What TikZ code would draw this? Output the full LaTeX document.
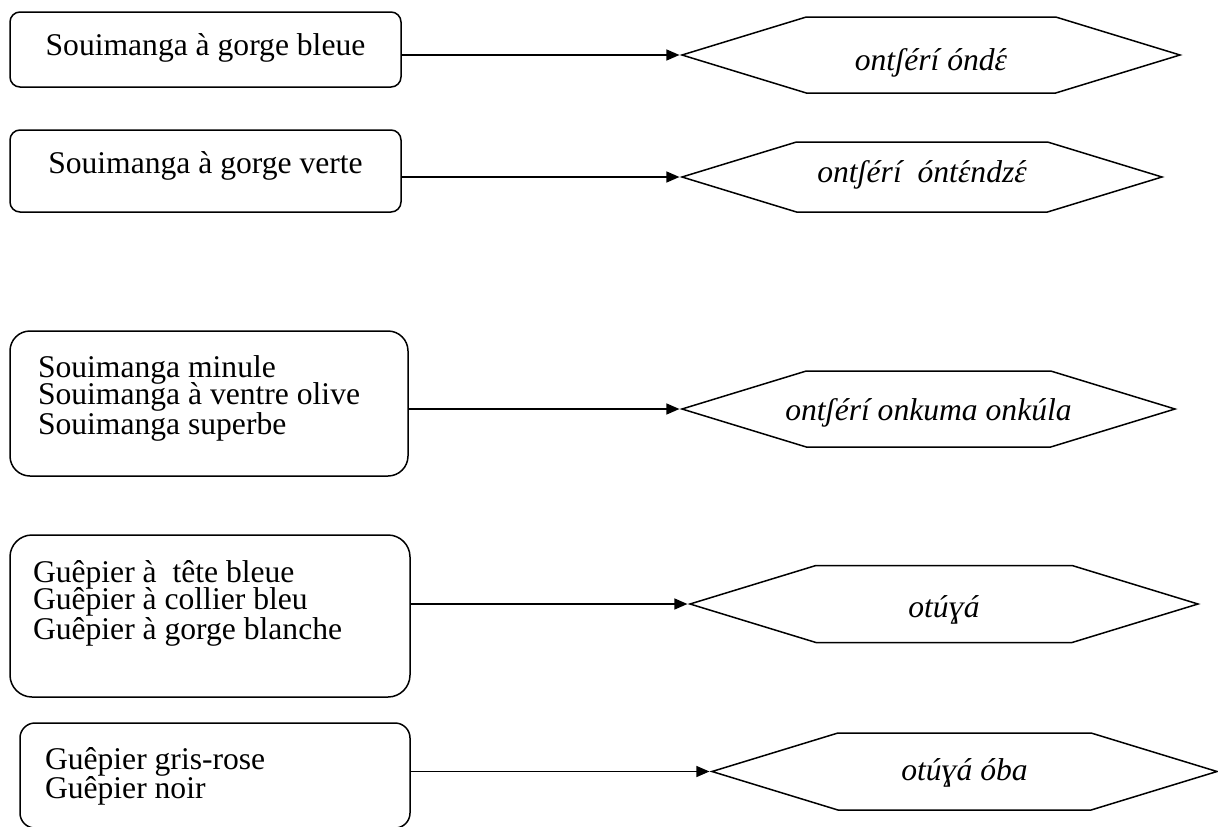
\documentclass[tikz,border=0pt]{standalone}
\usepackage{fontspec}
\setmainfont{Liberation Serif}
\usetikzlibrary{shapes.symbols,arrows.meta}
\newcommand\epsac{\accent"00B4 ɛ}
\newcommand\hextext[2]{\raisebox{-#1pt}[0pt][0pt]{\makebox[0pt]{#2}}}
\newcommand\tightlines{\lineskiplimit=-60pt\relax\baselineskip=27.5pt\relax}
\begin{document}
\lineskiplimit=-60pt\relax
\begin{tikzpicture}[x=1pt,y=-1pt,
  txt/.style={font=\fontsize{31.6}{27.5}\selectfont},
  box/.style={draw, line width=1.5pt, txt, inner ysep=0pt},
  listbox/.style={box, align=flush left, text height=22pt},
  hexa/.style={draw, line width=1.5pt, shape=signal, signal to=west and east,
    signal pointer angle=34, inner sep=0pt, font=\fontsize{31.6}{27.5}\selectfont\itshape},
  conn/.style={line width=1.3pt, -{Triangle[length=13pt,width=11pt]}}
]
\useasboundingbox (0,0) rectangle (1218,827);

% left boxes
\node[box, rounded corners=10pt, minimum width=391pt, minimum height=75pt,
  text height=22pt, text depth=11pt] (b1) at (205.5,49.5) {Souimanga à gorge bleue};
\node[box, rounded corners=10pt, minimum width=391pt, minimum height=82pt,
  text height=22pt, text depth=18pt] (b2) at (205.5,171) {Souimanga à gorge verte};
\node[listbox, rounded corners=20pt, inner xsep=28pt, text width=342pt,
  minimum width=398pt, minimum height=145pt, text depth=75pt] (b3) at (209,403.5)
  {\tightlines Souimanga minule\\Souimanga à ventre olive\\Souimanga superbe};
\node[listbox, rounded corners=22pt, inner xsep=23pt, text width=354pt,
  minimum width=400pt, minimum height=162pt, text depth=90pt] (b4) at (210,616)
  {\tightlines Guêpier à~ tête bleue\\Guêpier à collier bleu\\Guêpier à gorge blanche};
\node[listbox, rounded corners=15pt, inner xsep=25pt, text width=340pt,
  minimum width=390pt, minimum height=105pt, text depth=35pt] (b5) at (215,775.5)
  {\tightlines Guêpier gris-rose\\Guêpier noir};

% hexagons
\node[hexa, minimum width=498pt, minimum height=76pt] (h1) at (931,55)
  {\hextext{15}{ontʃérí ónd\epsac}};
\node[hexa, minimum width=480pt, minimum height=70pt] (h2) at (922,177)
  {\hextext{5}{ontʃérí~ ónt\epsac ndz\epsac}};
\node[hexa, minimum width=493pt, minimum height=76pt] (h3) at (928.5,409)
  {\hextext{11}{ontʃérí onkuma onkúla}};
\node[hexa, minimum width=508pt, minimum height=77pt] (h4) at (944,604)
  {\hextext{13}{otúɣá}};
\node[hexa, minimum width=505pt, minimum height=77pt] (h5) at (964.5,771.5)
  {\hextext{8.5}{otúɣá óba}};

% connectors
\draw[conn] (b1.east |- h1.west) -- (h1.west);
\draw[conn] (b2.east |- h2.west) -- (h2.west);
\draw[conn] (b3.east |- h3.west) -- (h3.west);
\draw[conn] (b4.east |- h4.west) -- (h4.west);
\draw[conn] (b5.east |- h5.west) -- (h5.west);
\end{tikzpicture}
\end{document}
